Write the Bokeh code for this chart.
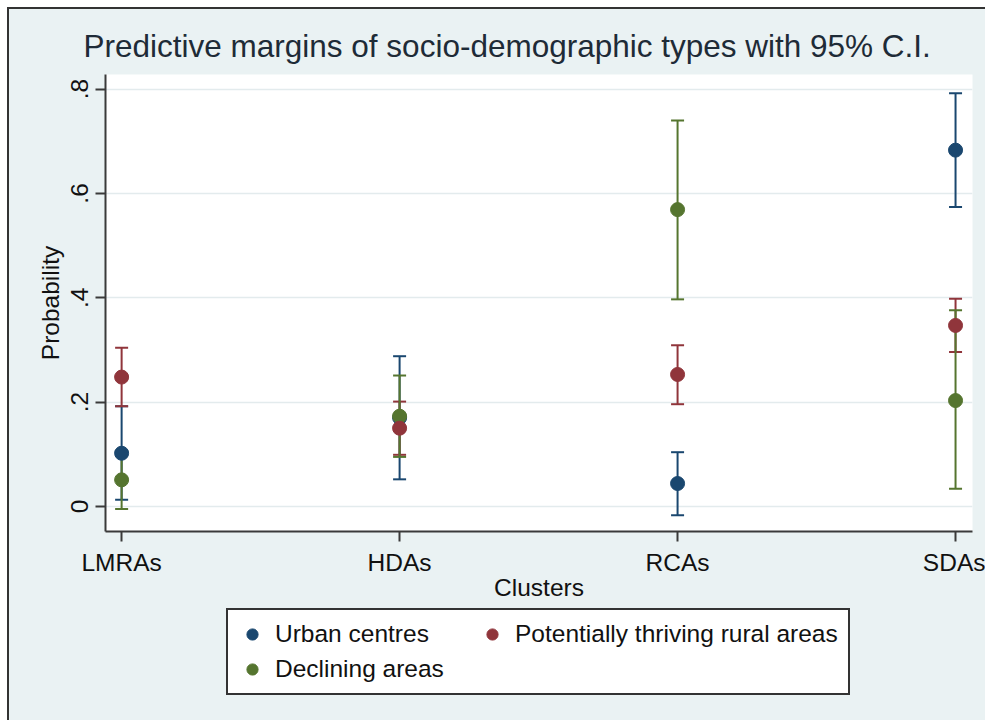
from bokeh.plotting import figure
from bokeh.layouts import column
from bokeh.models import (Range1d, FixedTicker, Whisker, TeeHead, ColumnDataSource,
                          Legend, LegendItem, InlineStyleSheet)
from bokeh.embed import file_html
from bokeh.resources import INLINE

# Predictive margins (probability) with 95% confidence intervals
clusters = ["LMRAs", "HDAs", "RCAs", "SDAs"]

urban_mean = [0.102, 0.170, 0.044, 0.683]
urban_lo = [0.013, 0.052, -0.017, 0.574]
urban_hi = [0.192, 0.288, 0.104, 0.792]

rural_mean = [0.248, 0.150, 0.253, 0.347]
rural_lo = [0.192, 0.099, 0.196, 0.296]
rural_hi = [0.304, 0.201, 0.309, 0.398]

decl_mean = [0.051, 0.173, 0.569, 0.203]
decl_lo = [-0.005, 0.095, 0.397, 0.034]
decl_hi = [0.107, 0.251, 0.740, 0.376]

y_ticks = [0, 0.2, 0.4, 0.6, 0.8]
y_tick_labels = ["0", ".2", ".4", ".6", ".8"]

series = [
    ("Urban centres", urban_mean, urban_lo, urban_hi, "#1a476f"),
    ("Potentially thriving rural areas", rural_mean, rural_lo, rural_hi, "#90353b"),
    ("Declining areas", decl_mean, decl_lo, decl_hi, "#55752f"),
]

FONT = "Liberation Sans"
BG = "#eaf2f3"
INK = "#111111"

xs = list(range(1, len(clusters) + 1))

# ---- main panel ----
p = figure(width=976, height=596, output_backend="svg", toolbar_location=None,
           x_range=Range1d(0.942, 4.061), y_range=Range1d(-0.048, 0.828),
           background_fill_color="white", border_fill_color=BG,
           min_border_left=96, min_border_right=13, min_border_top=65,
           min_border_bottom=74)
p.outline_line_color = None

p.title.text = "Predictive margins of socio-demographic types with 95% C.I."
p.title.text_font = FONT
p.title.text_font_size = "31.5px"
p.title.text_font_style = "normal"
p.title.text_color = "#1e2b37"
p.title.align = "left"
p.title.offset = -22
p.title.standoff = 21
p.title.padding = (0, 0, 3, 0)

for ax in (p.xaxis[0], p.yaxis[0]):
    ax.axis_line_color = "#3a3a3a"
    ax.axis_line_width = 2
    ax.major_tick_line_color = "#3a3a3a"
    ax.major_tick_line_width = 2
    ax.major_tick_out = 10
    ax.major_tick_in = 0
    ax.minor_tick_line_color = None
    ax.major_label_text_font = FONT
    ax.major_label_text_font_size = "24.5px"
    ax.major_label_text_color = INK
    ax.axis_label_text_font = FONT
    ax.axis_label_text_font_size = "24.5px"
    ax.axis_label_text_font_style = "normal"
    ax.axis_label_text_color = INK

p.xaxis.ticker = FixedTicker(ticks=xs)
p.xaxis.major_label_overrides = {x: c for x, c in zip(xs, clusters)}
p.xaxis.axis_label = "Clusters"
p.xaxis.major_label_standoff = 7
p.xaxis.axis_label_standoff = -5

p.yaxis.ticker = FixedTicker(ticks=y_ticks)
p.yaxis.major_label_overrides = {t: l for t, l in zip(y_ticks, y_tick_labels)}
p.yaxis.major_label_orientation = "vertical"
p.yaxis.axis_label = "Probability"
p.yaxis.major_label_standoff = 7
p.yaxis.axis_label_standoff = 5

p.xgrid.grid_line_color = None
p.ygrid.grid_line_color = "#e3ebed"
p.ygrid.grid_line_width = 1.5

# confidence intervals first, then the point estimates on top
for name, mean, lo, hi, col in series:
    src = ColumnDataSource(dict(x=xs, lo=lo, hi=hi))
    w = Whisker(source=src, base="x", lower="lo", upper="hi", dimension="height",
                line_color=col, line_width=2,
                upper_head=TeeHead(size=13, line_color=col, line_width=2),
                lower_head=TeeHead(size=13, line_color=col, line_width=2))
    p.add_layout(w)

for name, mean, lo, hi, col in [series[0], series[2], series[1]]:
    src = ColumnDataSource(dict(x=xs, y=mean))
    p.scatter("x", "y", source=src, size=14, fill_color=col, line_color=col)

# ---- legend strip ----
lg = figure(width=976, height=115, output_backend="svg", toolbar_location=None,
            x_range=Range1d(0, 976), y_range=Range1d(0, 115),
            x_axis_type=None, y_axis_type=None,
            background_fill_color=BG, border_fill_color=BG, min_border=0)
lg.outline_line_color = None
lg.xgrid.visible = False
lg.ygrid.visible = False

items = []
for name, mean, lo, hi, col in series:
    r = lg.scatter([-100], [-100], size=14, fill_color=col, line_color=col)
    items.append(LegendItem(label=name, renderers=[r]))

legend = Legend(items=items, orientation="horizontal", ncols=2, location=(121, 25))
legend.label_text_font = FONT
legend.label_text_font_size = "24.5px"
legend.label_text_color = INK
legend.border_line_color = "#333333"
legend.border_line_alpha = 1
legend.border_line_width = 2
legend.background_fill_color = "white"
legend.background_fill_alpha = 1
legend.glyph_width = 28
legend.glyph_height = 28
legend.label_standoff = 9
legend.label_width = 196
legend.spacing = 7
legend.padding = 10
legend.margin = 0
lg.add_layout(legend, "center")

layout = column(p, lg, spacing=0)
layout.margin = (7, 0, 0, 7)
layout.stylesheets = [InlineStyleSheet(
    css=(":host { border-left: 2px solid #333; border-top: 2px solid #333; "
         "border-right: none !important; border-bottom: none !important; "
         "background: " + BG + "; }"))]

open("out.html", "w").write(file_html(layout, INLINE))
